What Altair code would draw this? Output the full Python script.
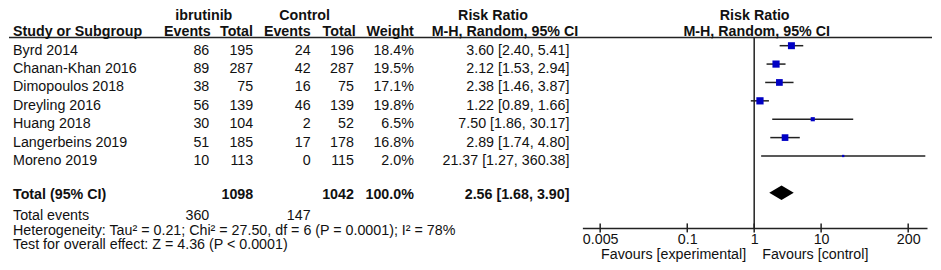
import altair as alt
import pandas as pd

# ---------------- data ----------------
studies = ["Byrd 2014", "Chanan-Khan 2016", "Dimopoulos 2018", "Dreyling 2016",
           "Huang 2018", "Langerbeins 2019", "Moreno 2019"]
ibr_events = [86, 89, 38, 56, 30, 51, 10]
ibr_total = [195, 287, 75, 139, 104, 185, 113]
ctl_events = [24, 42, 16, 46, 2, 17, 0]
ctl_total = [196, 287, 75, 139, 52, 178, 115]
weight = [18.4, 19.5, 17.1, 19.8, 6.5, 16.8, 2.0]
rr = [3.60, 2.12, 2.38, 1.22, 7.50, 2.89, 21.37]
rr_lo = [2.40, 1.53, 1.46, 0.89, 1.86, 1.74, 1.27]
rr_hi = [5.41, 2.94, 3.87, 1.66, 30.17, 4.80, 360.38]

total_label = "Total (95% CI)"
total_ibr = 1098
total_ctl = 1042
total_weight = 100.0
total_rr = 2.56
total_lo = 1.68
total_hi = 3.90
events_label = "Total events"
events_ibr = 360
events_ctl = 147
heterogeneity = "Heterogeneity: Tau\u00b2 = 0.21; Chi\u00b2 = 27.50, df = 6 (P = 0.0001); I\u00b2 = 78%"
overall = "Test for overall effect: Z = 4.36 (P < 0.0001)"
tick_values = [0.005, 0.1, 1, 10, 200]
fav_left = "Favours [experimental]"
fav_right = "Favours [control]"

# ---------------- styling ----------------
FONT = "Liberation Sans"
FS = 14.3
TXT = "#111111"
LINE = "#222222"
BLUE = "#0000c4"
ROW0 = 36.6
ROWH = 18.4
TOTAL_ROW = 8
AXIS_Y = 219
HEAD_LINE = 28.3

xs = alt.Scale(type="log", domain=[0.00271, 382], range=[574, 919], nice=False)
ys = alt.Scale(type="linear", domain=[0, TOTAL_ROW],
               range=[ROW0, ROW0 + TOTAL_ROW * ROWH], nice=False, zero=False)
xaxis = alt.Axis(
    values=tick_values, format="~g", ticks=False, tickSize=0, grid=False,
    domainColor=LINE, domainWidth=1.5, labelFont=FONT, labelFontSize=FS,
    labelColor=TXT, labelPadding=5, title=None, labelFlush=False)

df = pd.DataFrame({
    "row": list(range(len(studies))),
    "study": studies,
    "ie": [str(v) for v in ibr_events],
    "it": [str(v) for v in ibr_total],
    "ce": [str(v) for v in ctl_events],
    "ct": [str(v) for v in ctl_total],
    "w": weight,
    "wt": [f"{v:.1f}%" for v in weight],
    "rr": rr,
    "lo": rr_lo,
    "hi": rr_hi,
    "ci": [f"{a:.2f} [{b:.2f}, {c:.2f}]" for a, b, c in zip(rr, rr_lo, rr_hi)],
})

tot = pd.DataFrame({
    "row": [TOTAL_ROW],
    "study": [total_label],
    "it": [str(total_ibr)],
    "ct": [str(total_ctl)],
    "wt": [f"{total_weight:.1f}%"],
    "ci": [f"{total_rr:.2f} [{total_lo:.2f}, {total_hi:.2f}]"],
})

HALF = 7.2 / ROWH
diamond = pd.DataFrame({
    "x": [total_lo, total_rr, total_hi],
    "yt": [TOTAL_ROW, TOTAL_ROW - HALF, TOTAL_ROW],
    "yb": [TOTAL_ROW, TOTAL_ROW + HALF, TOTAL_ROW],
})


def label(txt, x, y, align="left", bold=False):
    return alt.Chart(pd.DataFrame({"t": [txt]})).mark_text(
        align=align, baseline="alphabetic", font=FONT, fontSize=FS,
        fontWeight="bold" if bold else "normal", color=TXT
    ).encode(text="t:N", x=alt.value(x), y=alt.value(y))


def col(data, field, x, align="right", bold=False, dy=9.0):
    return alt.Chart(data).mark_text(
        align=align, baseline="alphabetic", font=FONT, fontSize=FS, dy=dy,
        fontWeight="bold" if bold else "normal", color=TXT
    ).encode(text=f"{field}:N", x=alt.value(x),
             y=alt.Y("row:Q", scale=ys, axis=None))


layers = []

# header rule
layers.append(alt.Chart(pd.DataFrame({"a": [0]})).mark_rule(color=LINE, strokeWidth=1.5).encode(
    x=alt.value(0), x2=alt.value(924), y=alt.value(HEAD_LINE)))

# line of no effect
layers.append(alt.Chart(pd.DataFrame({"v": [1]})).mark_rule(color=LINE, strokeWidth=1.5).encode(
    x=alt.X("v:Q", scale=xs, axis=xaxis), y=alt.value(HEAD_LINE), y2=alt.value(AXIS_Y)))

# confidence intervals
layers.append(alt.Chart(df).mark_rule(color=LINE, strokeWidth=1.5).encode(
    x=alt.X("lo:Q", scale=xs, axis=xaxis), x2="hi:Q",
    y=alt.Y("row:Q", scale=ys, axis=None)))

# squares
layers.append(alt.Chart(df).mark_square(color=BLUE, opacity=1, filled=True).encode(
    x=alt.X("rr:Q", scale=xs, axis=xaxis),
    y=alt.Y("row:Q", scale=ys, axis=None),
    size=alt.Size("w:Q", scale=alt.Scale(domain=[0, 20], range=[0, 53]), legend=None)))

# pooled diamond
layers.append(alt.Chart(diamond).mark_area(color="black", orient="vertical", opacity=1).encode(
    x=alt.X("x:Q", scale=xs, axis=xaxis),
    y=alt.Y("yt:Q", scale=ys, axis=None), y2="yb:Q"))

# axis ticks
layers.append(alt.Chart(pd.DataFrame({"v": tick_values})).mark_rule(color=LINE, strokeWidth=1.5).encode(
    x=alt.X("v:Q", scale=xs, axis=xaxis),
    y=alt.value(AXIS_Y - 4.5), y2=alt.value(AXIS_Y + 4.5)))

# headers
H1 = 10.8
H2 = 26.6
layers += [
    label("ibrutinib", 195, H1, "center", True),
    label("Control", 296, H1, "center", True),
    label("Risk Ratio", 484.5, H1, "center", True),
    label("Risk Ratio", 746.5, H1, "center", True),
    label("Study or Subgroup", 4, H2, "left", True),
    label("Events", 202, H2, "right", True),
    label("Total", 244.3, H2, "right", True),
    label("Events", 302, H2, "right", True),
    label("Total", 347, H2, "right", True),
    label("Weight", 405.3, H2, "right", True),
    label("M-H, Random, 95% CI", 496.5, H2, "center", True),
    label("M-H, Random, 95% CI", 748.5, H2, "center", True),
]

# study rows
layers += [
    col(df, "study", 4, "left"),
    col(df, "ie", 200.5),
    col(df, "it", 244.5),
    col(df, "ce", 302),
    col(df, "ct", 345.3),
    col(df, "wt", 405.3),
    col(df, "ci", 561),
]

# total row
layers += [
    col(tot, "study", 4, "left", True, 6.6),
    col(tot, "it", 244.5, "right", True, 6.6),
    col(tot, "ct", 345.3, "right", True, 6.6),
    col(tot, "wt", 405.3, "right", True, 6.6),
    col(tot, "ci", 561, "right", True, 6.6),
]

# footer
layers += [
    label(events_label, 4, 211),
    label(str(events_ibr), 200.5, 211, "right"),
    label(str(events_ctl), 302, 211, "right"),
    label(heterogeneity, 4, 226),
    label(overall, 4, 240.5),
    label(fav_left, 738, 250.5, "right"),
    label(fav_right, 754, 250.5, "left"),
]

chart = alt.layer(*layers).properties(
    width=925, height=AXIS_Y, padding=0
).configure_view(stroke=None)

chart.save("out.html", embed_options={"renderer": "svg", "actions": False})
